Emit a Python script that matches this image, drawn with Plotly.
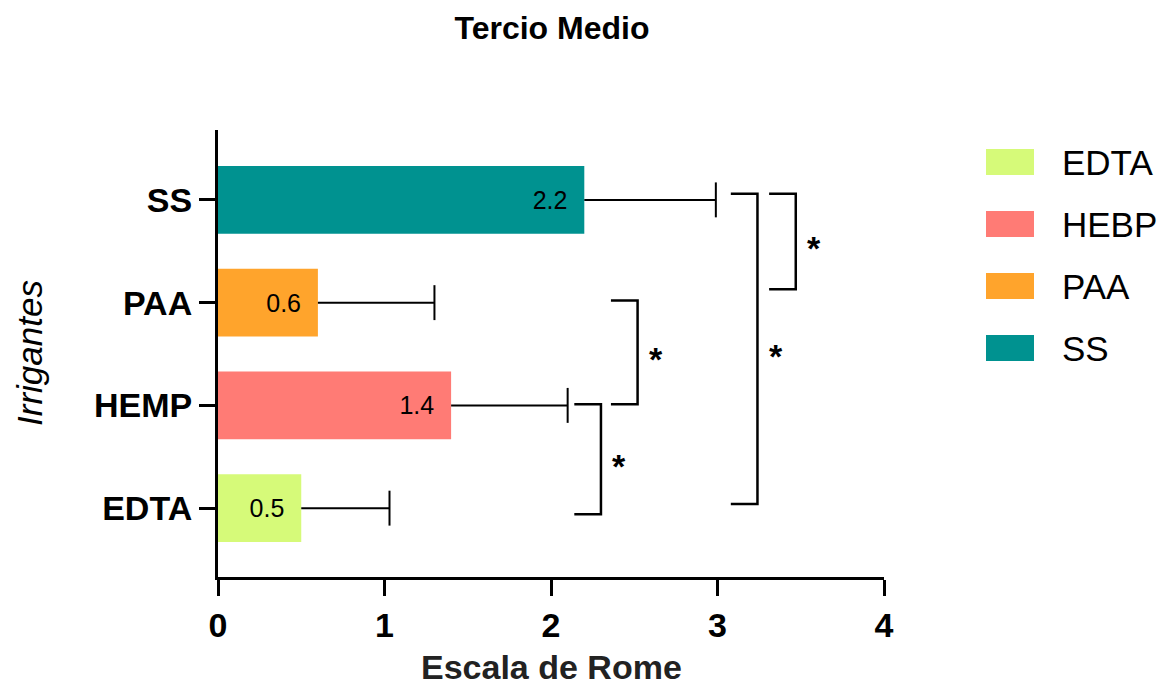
import plotly.graph_objects as go

# Groups (bottom to top), mean Rome scale score and error
irrigants = ["EDTA", "HEMP", "PAA", "SS"]
means = [0.5, 1.4, 0.6, 2.2]
errors = [0.53, 0.70, 0.70, 0.79]
colors = ["#D6FA79", "#FF7B75", "#FFA42C", "#009290"]

# X axis ticks
x_ticks = [0, 1, 2, 3, 4]

# Legend entries (top to bottom)
legend_names = ["EDTA", "HEBP", "PAA", "SS"]
legend_colors = ["#D6FA79", "#FF7B75", "#FFA42C", "#009290"]

# Significance comparisons and their markers
comparisons = [("EDTA", "SS"), ("PAA", "SS"), ("HEMP", "PAA"), ("EDTA", "HEMP")]
sig_labels = ["*", "*", "*", "*"]

# Bracket geometry: spine x (data units) and small end nudges (top, bottom)
bracket_spine = [3.24, 3.47, 2.52, 2.30]
bracket_nudge = [(0.06, 0.04), (0.06, 0.13), (0.02, 0.01), (0.01, -0.06)]
TIP = 0.16
CAP = 0.17
BAR_W = 0.66

FONT = "Liberation Sans, Arial, Helvetica, sans-serif"
W, H = 1165, 688
L, R, T, B = 218, 281, 130, 111
PW, PH = W - L - R, H - T - B


def px_x(p):
    return (p - L) / PW


def px_y(p):
    return (H - B - p) / PH


ypos = list(range(len(irrigants)))

fig = go.Figure()

fig.add_trace(go.Bar(
    y=ypos, x=means, orientation="h", width=BAR_W,
    marker=dict(color=colors, line=dict(width=0)),
    text=[f"{v:.1f}\u00a0\u00a0" for v in means], textposition="inside",
    insidetextanchor="end", textangle=0,
    textfont=dict(family=FONT, size=25, color="black"),
    showlegend=False, hoverinfo="skip",
))

# Error bars: one-sided, from bar end to mean + error, with an end cap
ex, ey = [], []
for i, (m, e) in enumerate(zip(means, errors)):
    ex += [m, m + e, None, m + e, m + e, None]
    ey += [i, i, None, i - CAP, i + CAP, None]
fig.add_trace(go.Scatter(x=ex, y=ey, mode="lines",
                         line=dict(color="black", width=2),
                         showlegend=False, hoverinfo="skip"))

# Significance brackets
bx, by = [], []
annotations = []
for (a, b), xs, (nt, nb), lab in zip(comparisons, bracket_spine, bracket_nudge, sig_labels):
    ia, ib = irrigants.index(a), irrigants.index(b)
    lo, hi = min(ia, ib), max(ia, ib)
    top, bot = hi + nt, lo + nb
    bx += [xs - TIP, xs, xs, xs - TIP, None]
    by += [top, top, bot, bot, None]
    annotations.append(dict(x=xs + 0.11, y=(top + bot) / 2, xref="x", yref="y",
                            text=f"<b>{lab}</b>", showarrow=False,
                            xanchor="center", yanchor="middle", yshift=-7,
                            font=dict(family=FONT, size=34, color="black")))
fig.add_trace(go.Scatter(x=bx, y=by, mode="lines",
                         line=dict(color="black", width=2.5),
                         showlegend=False, hoverinfo="skip"))

# Axis titles
annotations.append(dict(x=0.5, y=px_y(667), xref="paper", yref="paper",
                        text="<b>Escala de Rome</b>", showarrow=False,
                        xanchor="center", yanchor="middle",
                        borderpad=0,
                        font=dict(family=FONT, size=34, color="#222222")))
annotations.append(dict(x=px_x(29), y=px_y(353), xref="paper", yref="paper",
                        text="<i>Irrigantes</i>", showarrow=False, textangle=-90,
                        xanchor="center", yanchor="middle",
                        font=dict(family=FONT, size=35, color="black")))

# Legend drawn as swatches + labels
shapes = []
for k, (name, col) in enumerate(zip(legend_names, legend_colors)):
    cy = 162 + 62 * k
    shapes.append(dict(type="rect", xref="paper", yref="paper",
                       x0=px_x(986), x1=px_x(1034),
                       y0=px_y(cy + 13), y1=px_y(cy - 13),
                       fillcolor=col, line=dict(width=0)))
    annotations.append(dict(x=px_x(1060), y=px_y(cy), xref="paper", yref="paper",
                            text=name, showarrow=False,
                            xanchor="left", yanchor="middle",
                            font=dict(family=FONT, size=35, color="black")))

fig.update_layout(
    width=W, height=H,
    margin=dict(l=L, r=R, t=T, b=B),
    paper_bgcolor="white", plot_bgcolor="white",
    title=dict(text="<b>Tercio Medio</b>", x=px_x(552), xref="paper",
               y=1 - 28 / H, yref="container", xanchor="center", yanchor="middle",
               font=dict(family=FONT, size=32, color="black")),
    xaxis=dict(range=[0, 4], tickvals=x_ticks,
               ticktext=[f"<b>{t}</b>" for t in x_ticks],
               showline=True, linecolor="black", linewidth=3,
               ticks="outside", ticklen=16, tickwidth=3, tickcolor="black",
               showgrid=False, zeroline=False,
               tickfont=dict(family=FONT, size=34, color="black")),
    yaxis=dict(range=[-0.67, 3.68], tickvals=ypos,
               ticktext=[f"<b>{n}</b>" for n in irrigants],
               showline=True, linecolor="black", linewidth=3,
               ticks="outside", ticklen=16, tickwidth=3, tickcolor="black",
               showgrid=False, zeroline=False,
               tickfont=dict(family=FONT, size=34, color="black")),
    shapes=shapes, annotations=annotations,
    showlegend=False,
)

fig.write_html("out.html")
